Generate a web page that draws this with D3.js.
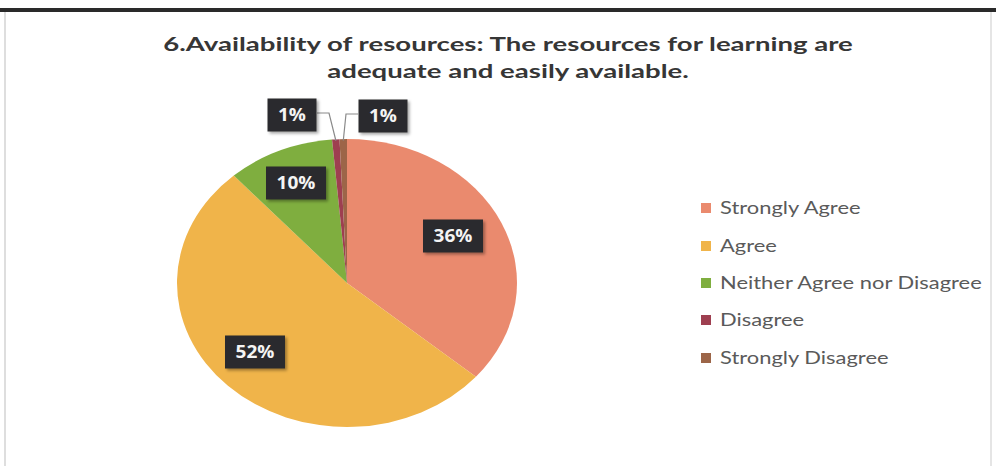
<!DOCTYPE html>
<html><head><meta charset="utf-8">
<script src="https://cdn.jsdelivr.net/npm/d3@7"></script>
<style>body{margin:0;background:#fff;} svg{display:block;}</style>
</head><body>
<svg id="c" width="996" height="466"></svg>
<script>
const categories = ["Strongly Agree", "Agree", "Neither Agree nor Disagree", "Disagree", "Strongly Disagree"];
const values = [36.3, 52.1, 10.2, 0.7, 0.7];
const colors = ["#EA8A6E", "#F0B44A", "#7FAE3F", "#9E3F50", "#9C6548"];
const titleLines = ["6.Availability of resources: The resources for learning are", "adequate and easily available."];

const svg = d3.select("#c");
const W = 996, H = 466;

// frame
svg.append("rect").attr("x",0).attr("y",0).attr("width",W).attr("height",H).attr("fill","#fff");
svg.append("line").attr("x1",0).attr("x2",W).attr("y1",10).attr("y2",10).attr("stroke","#2a2a2a").attr("stroke-width",4);
svg.append("line").attr("x1",5).attr("x2",5).attr("y1",12).attr("y2",H).attr("stroke","#c8c8c8").attr("stroke-width",1.2);
svg.append("line").attr("x1",991).attr("x2",991).attr("y1",12).attr("y2",H).attr("stroke","#d4d4d4").attr("stroke-width",1.2);

const font = "Lato, Carlito, 'Open Sans', sans-serif";

// helper: text stretched horizontally to a target width (scan is stretched)
function stretched(parent, x, y, str, size, weight, fill, anchor, targetW, sxFixed) {
  const g = parent.append("g");
  const t = g.append("text").attr("x",0).attr("y",0).attr("text-anchor",anchor)
    .attr("font-family",font).attr("font-weight",weight).attr("font-size",size).attr("fill",fill).text(str);
  const w = t.node().getComputedTextLength();
  const s = sxFixed || (targetW / w);
  g.attr("transform", `translate(${x},${y}) scale(${s},1)`);
  return s;
}

// title
const tsx = stretched(svg, 508, 51, titleLines[0], 19.5, "bold", "#363636", "middle", 690);
stretched(svg, 508, 78, titleLines[1], 19.5, "bold", "#363636", "middle", 0, tsx);

// defs
const defs = svg.append("defs");
const f = defs.append("filter").attr("id","sh").attr("x","-20%").attr("y","-20%").attr("width","150%").attr("height","160%");
f.append("feDropShadow").attr("dx",2).attr("dy",2).attr("stdDeviation",1.5).attr("flood-color","#000").attr("flood-opacity",0.35);

// pie (scan is stretched horizontally -> ellipse)
const cx = 347, cy = 283, ry = 144, rx = 170;
const sx = rx / ry;
const pie = d3.pie().sort(null).value(d => d)(values);
const arc = d3.arc().innerRadius(0).outerRadius(ry);
const g = svg.append("g").attr("transform", `translate(${cx},${cy}) scale(${sx},1)`);
g.selectAll("path").data(pie).join("path").attr("d", arc).attr("fill", (d,i) => colors[i]);

// labels
const total = d3.sum(values);
const labelPos = [
  {x:453, y:236}, {x:255, y:352}, {x:296, y:183}, {x:292, y:115}, {x:383, y:116}
];
const lg = svg.append("g");
function edgePoint(d, frac) {
  const a = d.startAngle + (d.endAngle - d.startAngle) * frac;
  return [cx + rx * Math.sin(a) * 0.99, cy - ry * Math.cos(a) * 0.99];
}
const pD = edgePoint(pie[3], 0.5), pS = edgePoint(pie[4], 0.5);
lg.append("polyline").attr("points", `${labelPos[3].x+25},113 ${labelPos[3].x+37},113 ${pD[0]},${pD[1]}`)
  .attr("fill","none").attr("stroke","#8a8a8a").attr("stroke-width",1.2);
lg.append("polyline").attr("points", `${labelPos[4].x-25},114 ${labelPos[4].x-37},114 ${pS[0]},${pS[1]}`)
  .attr("fill","none").attr("stroke","#8a8a8a").attr("stroke-width",1.2);

pie.forEach((d,i) => {
  const p = labelPos[i];
  const txt = Math.round(d.value / total * 100) + "%";
  const grp = lg.append("g").attr("transform", `translate(${p.x},${p.y})`);
  const bw = txt.length === 2 ? 49 : 60, bh = 33;
  grp.append("rect").attr("x",-bw/2).attr("y",-bh/2).attr("width",bw).attr("height",bh)
    .attr("fill","#2b2b2e").attr("filter","url(#sh)");
  grp.append("text").attr("text-anchor","middle").attr("dy","0.36em").attr("transform","scale(1.12,1)")
    .attr("font-family","'Open Sans', 'DejaVu Sans', sans-serif").attr("font-weight","bold").attr("font-size",17).attr("fill","#f4f4f4").text(txt);
});

// legend
const legY = [208, 246, 283, 320, 358];
const leg = svg.append("g");
let lsx = null;
// compute stretch from the longest entry
{
  const tmp = leg.append("text").attr("font-family",font).attr("font-size",16.5).text(categories[2]);
  lsx = 262 / tmp.node().getComputedTextLength();
  tmp.remove();
}
categories.forEach((c,i) => {
  leg.append("rect").attr("x",701).attr("y",legY[i]-5).attr("width",10).attr("height",10).attr("fill",colors[i]);
  stretched(leg, 720, legY[i] + 6, c, 16.5, "normal", "#5a5a5a", "start", 0, lsx);
});
</script>
</body></html>
